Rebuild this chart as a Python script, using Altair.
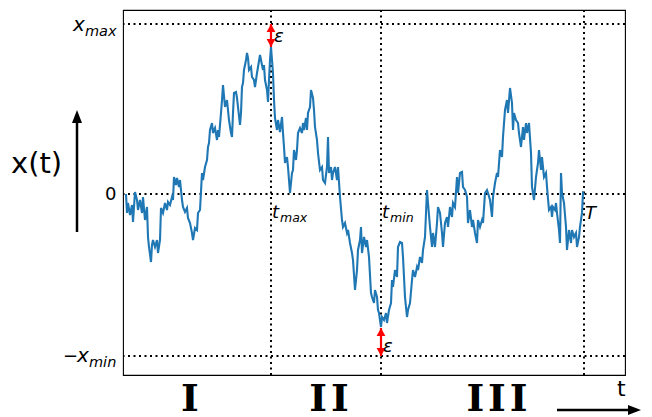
import altair as alt
import pandas as pd

# ---- random-walk path (step index, displacement) ----
STEP = [0, 1, 2, 4, 6, 7, 9, 11, 12, 14, 16, 17, 19, 21, 22, 23, 25, 26, 27, 29,
        31, 32, 34, 35, 37, 39, 41, 42, 44, 46, 47, 48, 50, 51, 53, 54, 56, 57, 59, 61,
        62, 64, 66, 67, 69, 71, 72,
        74, 76, 77, 79, 81, 82, 83, 84, 86, 87, 89, 91, 92, 93, 95, 96, 97, 99, 101, 102,
        103, 105, 106, 107, 108, 110, 111, 112, 114, 115, 116, 117, 118, 120, 121, 122, 123, 125, 126, 128,
        129, 131, 132, 134, 135, 137, 138, 139, 141, 142, 143, 144, 145,
        146, 147, 148, 149, 151, 152, 154, 156, 157, 158, 159, 161, 162, 163, 164, 166, 167, 168, 170, 171,
        172, 174, 176, 177, 178, 180, 181, 182, 184, 185, 187, 188, 189, 191, 192, 194, 196, 197, 199, 201,
        202, 203, 205, 206, 207, 209, 211, 212, 214,
        216, 217, 219, 221, 222, 224, 226, 227, 229, 231, 232, 234, 235, 236, 238, 240, 241, 243, 245, 246,
        248, 249, 251, 252, 253, 255, 256, 258, 260, 261, 263, 265, 266, 267, 269, 271, 272, 274, 276, 277,
        279, 281, 282, 284, 286, 287, 289, 291, 292, 294, 296, 297, 299, 301, 302,
        304, 306, 307, 309, 311, 312, 314, 316, 317, 319, 321, 322, 324, 326, 327, 329, 331, 332, 334, 336,
        337, 339, 341, 342, 344, 346, 347, 349, 351, 352, 354, 356, 357, 359, 361, 362, 364, 366, 367, 369,
        371, 372,
        374, 376, 377, 379, 381, 382, 384, 386, 387, 388, 390, 392, 393, 395, 397, 398, 400, 401, 403, 405,
        406, 407, 408, 410, 412, 413, 415, 416, 418, 420, 421, 423, 425, 426, 427, 429, 430, 431, 433, 434,
        435, 436, 438, 440, 441, 443, 445, 446, 448, 450, 451, 453, 454, 456, 457, 458]
VALUE = [0, -19, -9, -21, -11, -28, 2, -6, -16, -6, -19, -3, -26, -13, -43, -53, -68, -51, -46, -53,
         -46, -59, -46, -14, -19, -9, -16, -8, -11, -3, -6, 17, 9, 16, 7, 14, -6, -13, -18, -14,
         -24, -29, -39, -46, -34, -36, -19,
         -16, 21, 14, 27, 34, 47, 51, 64, 71, 61, 66, 54, 64, 57, 81, 94, 109, 87, 94, 84,
         74, 61, 57, 81, 101, 102, 96, 87, 69, 81, 107, 111, 124, 134, 141, 136, 124, 127, 117, 114,
         107, 121, 127, 139, 134, 124, 129, 114, 104, 92, 114, 134, 147,
         134, 121, 94, 76, 64, 74, 62, 77, 61, 47, 31, 37, 27, 14, 1, 21, 24, 44, 34, 44,
         61, 66, 61, 71, 64, 76, 64, 81, 87, 104, 96, 84, 67, 54, 41, 24, 27, 14, 11, 27,
         57, 21, 27, 14, 21, 27, 14, 27, -3,
         -26, -33, -29, -39, -36, -49, -59, -66, -96, -76, -56, -46, -33, -59, -43, -53, -46, -63, -99, -103,
         -109, -96, -103, -116, -119, -133, -123, -126, -119, -129, -116, -109, -86, -93, -76, -83, -53, -48, -49, -63,
         -103, -123, -116, -109, -86, -76, -83, -73, -76, -63, -69, -56, -43, 4, -9,
         -33, -53, -39, -53, -29, -13, -19, -39, -53, -29, -23, -33, -13, -23, -9, -13, 17, 1, 21, 22,
         7, 4, -3, -29, -16, -33, -26, -39, -49, -26, -33, -26, -29, 1, 4, 1, -6, -23, -3, 11,
         21, 17,
         44, 37, 57, 84, 94, 81, 106, 91, 64, 81, 74, 71, 61, 47, 67, 54, 71, 61, 71, 41,
         7, 1, -6, 17, 31, 44, 24, 37, 17, 21, 7, -16, -13, -23, -13, -16, -9, -19, -36, -49,
         21, 1, -9, -33, -56, -36, -49, -36, -43, -39, -53, -43, -33, -19, 1, 0]

# ---- key levels / times ----
T_END = 458
T_MAX = 145
T_MIN = 255
X_MAX = 170
X_MIN = 162
PATH_MAX = 147
PATH_MIN = -134

# ---- annotations ----
MATH_TEXT = ["x", "max", "x", "min", "t", "max", "t", "min", "T", "ε", "ε"]
MATH_T = [-53, -41, -49, -37, 146, 154, 256, 264, 459, 148, 257]
MATH_X = [163, 158, -168, -173, -24, -28, -24, -28, -25, 152, -158]
MATH_SIZE = [20, 14.5, 20, 14.5, 18, 12.5, 18, 12.5, 18, 18, 18]

PLAIN_TEXT = ["0", "−", "x(t)", "t"]
PLAIN_T = [-21, -63, -115, 491]
PLAIN_X = [-6, -168, 21, -202]
PLAIN_SIZE = [18, 18, 29, 22]

REGION_TEXT = ["I", "I\u200aI", "I\u200aI\u200aI"]
REGION_T = [64, 203, 371]
REGION_X = [-217, -217, -217]

xs = alt.Scale(domain=[-3, 499], nice=False, zero=False)
ys = alt.Scale(domain=[-181, 184], nice=False, zero=False)


def X(f):
    return alt.X(f, scale=xs, axis=None)


def Y(f):
    return alt.Y(f, scale=ys, axis=None)


walk = pd.DataFrame({"t": STEP, "x": VALUE})

line = alt.Chart(walk).mark_line(color="#1f77b4", strokeWidth=2.1).encode(
    x=X("t:Q"),
    y=alt.Y("x:Q", scale=ys,
            axis=alt.Axis(values=[X_MAX, 0, -X_MIN], labels=False, ticks=True, tickSize=5,
                          tickColor="black", tickWidth=1, domain=False, grid=False, title=None)),
)

dots = dict(strokeDash=[2, 3.5], strokeWidth=2, color="black")
hrules = alt.Chart(pd.DataFrame({"x": [X_MAX, 0, -X_MIN]})).mark_rule(**dots).encode(y=Y("x:Q"))
vrules = alt.Chart(pd.DataFrame({"t": [T_MAX, T_MIN, T_END]})).mark_rule(**dots).encode(x=X("t:Q"))

eps = pd.DataFrame({"t": [T_MAX, T_MIN], "top": [X_MAX, PATH_MIN], "bot": [PATH_MAX, -X_MIN]})
eps_shaft = alt.Chart(eps).mark_rule(color="red", strokeWidth=2.2).encode(
    x=X("t:Q"), y=Y("top:Q"), y2="bot:Q")
eps_up = alt.Chart(eps).mark_point(shape="M0,0L1.1,2L-1.1,2Z", filled=True, color="red",
                                    size=64, opacity=1).encode(x=X("t:Q"), y=Y("top:Q"))
eps_dn = alt.Chart(eps).mark_point(shape="M0,0L1.1,-2L-1.1,-2Z", filled=True, color="red",
                                    size=64, opacity=1).encode(x=X("t:Q"), y=Y("bot:Q"))

# big axis arrows outside the frame
varrow = pd.DataFrame({"t": [-49], "a": [-38], "b": [76], "tip": [84]})
v_shaft = alt.Chart(varrow).mark_rule(color="black", strokeWidth=2.5).encode(
    x=X("t:Q"), y=Y("a:Q"), y2="b:Q")
v_head = alt.Chart(varrow).mark_point(shape="M0,0L1,2.6L-1,2.6Z", filled=True, color="black",
                                       size=100, opacity=1).encode(x=X("t:Q"), y=Y("tip:Q"))
harrow = pd.DataFrame({"x": [-216], "a": [431], "b": [506], "tip": [515]})
h_shaft = alt.Chart(harrow).mark_rule(color="black", strokeWidth=2.5).encode(
    y=Y("x:Q"), x=X("a:Q"), x2="b:Q")
h_head = alt.Chart(harrow).mark_point(shape="M0,0L-2.6,-1L-2.6,1Z", filled=True, color="black",
                                       size=100, opacity=1).encode(x=X("tip:Q"), y=Y("x:Q"))

math_df = pd.DataFrame({"label": MATH_TEXT, "t": MATH_T, "x": MATH_X, "s": MATH_SIZE})
math = alt.Chart(math_df).mark_text(align="left", baseline="alphabetic", font="DejaVu Sans",
                                    fontStyle="italic", color="black").encode(
    x=X("t:Q"), y=Y("x:Q"), text="label:N", size=alt.Size("s:Q", scale=None))

plain_df = pd.DataFrame({"label": PLAIN_TEXT, "t": PLAIN_T, "x": PLAIN_X, "s": PLAIN_SIZE})
plain = alt.Chart(plain_df).mark_text(align="left", baseline="alphabetic", font="DejaVu Sans",
                                      color="black").encode(
    x=X("t:Q"), y=Y("x:Q"), text="label:N", size=alt.Size("s:Q", scale=None))

region_df = pd.DataFrame({"label": REGION_TEXT, "t": REGION_T, "x": REGION_X})
regions = alt.Chart(region_df).mark_text(align="center", baseline="alphabetic", font="DejaVu Serif",
                                         fontWeight="bold", fontSize=38, color="black").encode(
    x=X("t:Q"), y=Y("x:Q"), text="label:N")

chart = alt.layer(
    hrules, vrules, line, eps_shaft, eps_up, eps_dn,
    v_shaft, v_head, h_shaft, h_head, math, plain, regions
).properties(
    width=502, height=365,
    autosize=alt.AutoSizeParams(type="none"),
    padding={"left": 115, "top": 2, "right": 19, "bottom": 42},
).configure_view(stroke="black", strokeWidth=1.1)

chart.save("out.html", embed_options={"renderer": "svg", "actions": False})
